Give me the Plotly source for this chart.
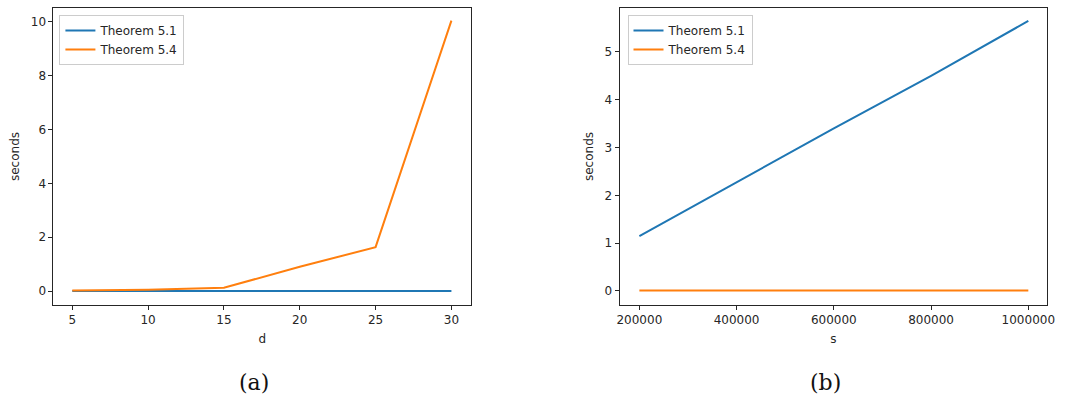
import plotly.graph_objects as go

# Panel (a)
d_vals = [5, 10, 15, 20, 25, 30]
a_thm51 = [0.005, 0.005, 0.005, 0.005, 0.005, 0.005]
a_thm54 = [0.02, 0.05, 0.12, 0.9, 1.63, 10.05]

# Panel (b)
s_vals = [200000, 400000, 600000, 800000, 1000000]
b_thm51 = [1.15, 2.27, 3.4, 4.5, 5.65]
b_thm54 = [0.01, 0.01, 0.01, 0.01, 0.01]

series_names = ["Theorem 5.1", "Theorem 5.4"]
colors = ["#1f77b4", "#ff7f0e"]

W, H = 1068, 397

def px_x(p):
    return p / W

def px_y(p):
    return 1 - p / H

fig = go.Figure()
fig.add_trace(go.Scatter(x=d_vals, y=a_thm51, mode="lines", name=series_names[0],
                         line=dict(color=colors[0], width=2), xaxis="x", yaxis="y", legend="legend"))
fig.add_trace(go.Scatter(x=d_vals, y=a_thm54, mode="lines", name=series_names[1],
                         line=dict(color=colors[1], width=2), xaxis="x", yaxis="y", legend="legend"))
fig.add_trace(go.Scatter(x=s_vals, y=b_thm51, mode="lines", name=series_names[0],
                         line=dict(color=colors[0], width=2), xaxis="x2", yaxis="y2", legend="legend2"))
fig.add_trace(go.Scatter(x=s_vals, y=b_thm54, mode="lines", name=series_names[1],
                         line=dict(color=colors[1], width=2), xaxis="x2", yaxis="y2", legend="legend2"))

tickfont = dict(family="DejaVu Sans", size=12, color="#262626")
axis_common = dict(showgrid=False, zeroline=False, showline=True, mirror=True,
                   linecolor="#262626", linewidth=1, ticks="outside", ticklen=4,
                   tickcolor="#262626", tickfont=tickfont)
title_font = dict(family="DejaVu Sans", size=12, color="#262626")
legend_font = dict(family="DejaVu Sans", size=12, color="#262626")

fig.update_layout(
    width=W, height=H,
    margin=dict(l=0, r=0, t=0, b=0),
    paper_bgcolor="white", plot_bgcolor="white",
    xaxis=dict(domain=[px_x(51), px_x(473)], range=[3.76, 31.3],
               tickvals=[5, 10, 15, 20, 25, 30], anchor="y",
               title=dict(text="d", font=title_font, standoff=8), **axis_common),
    yaxis=dict(domain=[px_y(305), px_y(8)], range=[-0.52, 10.52],
               tickvals=[0, 2, 4, 6, 8, 10], anchor="x",
               title=dict(text="seconds", font=title_font, standoff=8), **axis_common),
    xaxis2=dict(domain=[px_x(623), px_x(1055)], range=[159300, 1038700],
                tickvals=[200000, 400000, 600000, 800000, 1000000],
                ticktext=["200000", "400000", "600000", "800000", "1000000"], anchor="y2",
                title=dict(text="s", font=title_font, standoff=8), **axis_common),
    yaxis2=dict(domain=[px_y(305), px_y(8)], range=[-0.293, 5.92],
                tickvals=[0, 1, 2, 3, 4, 5], anchor="x2",
                title=dict(text="seconds", font=title_font, standoff=8), **axis_common),
    legend=dict(x=px_x(57), y=px_y(15), xanchor="left", yanchor="top",
                bgcolor="white", bordercolor="#cccccc", borderwidth=1,
                font=legend_font, tracegroupgap=0, itemwidth=30),
    legend2=dict(x=px_x(631), y=px_y(15), xanchor="left", yanchor="top",
                 bgcolor="white", bordercolor="#cccccc", borderwidth=1,
                 font=legend_font, tracegroupgap=0, itemwidth=30),
    annotations=[
        dict(text="(a)", x=px_x(254), y=px_y(382), xref="paper", yref="paper",
             showarrow=False, font=dict(family="DejaVu Serif", size=22, color="#111"),
             xanchor="center", yanchor="middle"),
        dict(text="(b)", x=px_x(831), y=px_y(382), xref="paper", yref="paper",
             showarrow=False, font=dict(family="DejaVu Serif", size=22, color="#111"),
             xanchor="center", yanchor="middle"),
    ],
)

fig.write_html("out.html")
